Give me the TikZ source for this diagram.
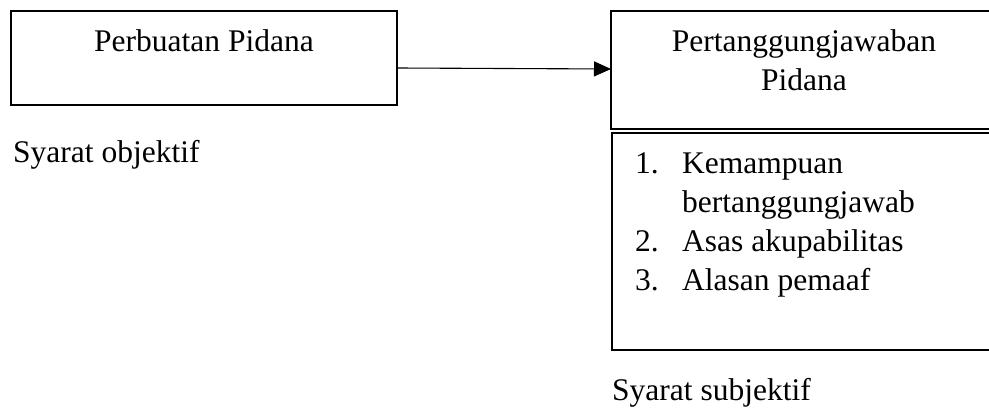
\documentclass[tikz,border=0pt]{standalone}
\usepackage{fontspec}
\setmainfont{Liberation Serif}
\usetikzlibrary{arrows.meta}
\begin{document}
\begin{tikzpicture}[x=1pt,y=-1pt,
  box/.style={draw=black,line width=1.1pt,inner sep=0pt,outer sep=0pt},
  txt/.style={inner sep=0pt,font=\fontsize{31.5pt}{38.7pt}\selectfont},
  arrowline/.style={draw=black,line width=1.1pt,-{Triangle[length=17pt,width=15pt]}}]
\useasboundingbox (0,0) rectangle (989,412);
\begin{scope}
\clip (0,0) rectangle (989,412);
\node[box,minimum width=386pt,minimum height=94pt] (perb) at (204,58) {};
\node[box,minimum width=386pt,minimum height=118pt] (pj) at (804,70) {};
\node[box,minimum width=386pt,minimum height=217pt] (list) at (805,241.5) {};
\end{scope}
\node[txt,anchor=base] (t1) at (204,52) {Perbuatan Pidana};
\node[txt,anchor=base] (t2) at (804,52) {Pertanggungjawaban};
\node[txt,anchor=base] (t3) at (804,90.7) {Pidana};
\node[txt,anchor=base west] (so) at (13,162) {Syarat objektif};
\node[txt,anchor=base west] (n1) at (635,173) {1.};
\node[txt,anchor=base west] (i1) at (682,173) {Kemampuan};
\node[txt,anchor=base west] (i1b) at (682,212) {bertanggungjawab};
\node[txt,anchor=base west] (n2) at (635,251) {2.};
\node[txt,anchor=base west] (i2) at (682,251) {Asas akupabilitas};
\node[txt,anchor=base west] (n3) at (635,290) {3.};
\node[txt,anchor=base west] (i3) at (682,290) {Alasan pemaaf};
\node[txt,anchor=base west] (ss) at (612,400) {Syarat subjektif};
\draw[arrowline] ([yshift=-10pt]perb.east) -- ([yshift=1pt]pj.west);
\end{tikzpicture}
\end{document}
